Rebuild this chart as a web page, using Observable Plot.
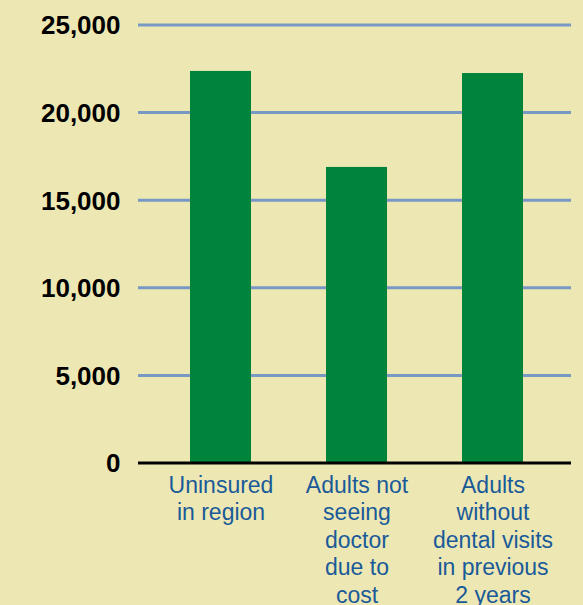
<!DOCTYPE html>
<html>
<head>
<meta charset="utf-8">
<script src="https://cdn.jsdelivr.net/npm/d3@7"></script>
<script src="https://cdn.jsdelivr.net/npm/@observablehq/plot@0.6"></script>
<style>
  html, body { margin: 0; padding: 0; background: #ede8b3; overflow: hidden; }
  #chart svg { display: block; }
</style>
</head>
<body>
<div id="chart"></div>
<script>
const categories = [
  "Uninsured\nin region",
  "Adults not\nseeing\ndoctor\ndue to\ncost",
  "Adults\nwithout\ndental visits\nin previous\n2 years"
];
const values = [22350, 16870, 22230];
const yTicks = [0, 5000, 10000, 15000, 20000, 25000];
const yTickLabels = ["0", "5,000", "10,000", "15,000", "20,000", "25,000"];

const data = categories.map((c, i) => ({category: c, value: values[i]}));

const chart = Plot.plot({
  width: 583,
  height: 605,
  marginLeft: 138,
  marginRight: 12,
  marginTop: 24.5,
  marginBottom: 142.5,
  style: {background: "#ede8b3", fontFamily: "'Liberation Sans', Arial, sans-serif"},
  x: {domain: categories, range: [113.5, 598.5], padding: 0.553, axis: null},
  y: {domain: [0, 25000], axis: null},
  marks: [
    Plot.ruleY(yTicks.filter(d => d > 0), {stroke: "#7799c4", strokeWidth: 3}),
    Plot.barY(data, {x: "category", y: "value", fill: "#00843c"}),
    Plot.ruleY([0], {stroke: "#000", strokeWidth: 3}),
    Plot.text(yTicks, {
      frameAnchor: "left", y: d => d,
      text: (d, i) => yTickLabels[i],
      textAnchor: "end", dx: -18, dy: 1,
      fontSize: 26, fontWeight: "bold", fill: "#000"
    }),
    Plot.text(data, {
      x: "category", y: 0, text: "category",
      lineAnchor: "top", dy: 10, lineHeight: 1.2,
      fontSize: 23, fill: "#1a5a99"
    })
  ]
});
document.getElementById("chart").append(chart);
</script>
</body>
</html>
